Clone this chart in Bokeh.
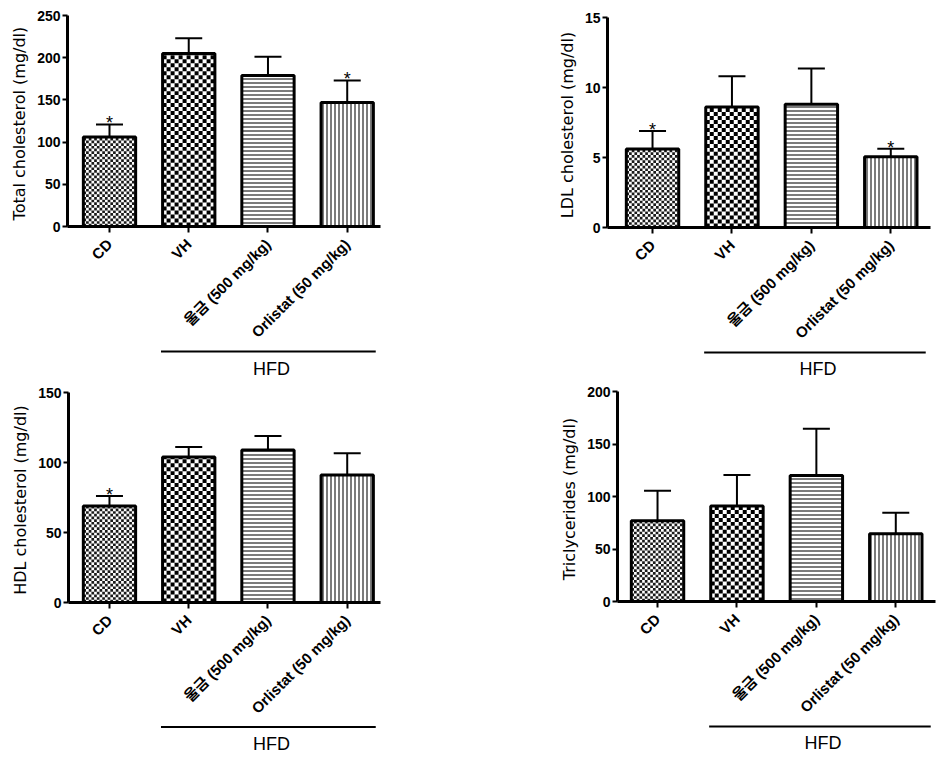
import math
from bokeh.plotting import figure
from bokeh.layouts import column, row
from bokeh.models import Range1d, FixedTicker, Whisker, TeeHead, ColumnDataSource
from bokeh.core.properties import value
from bokeh.embed import file_html
from bokeh.resources import INLINE

# ---------------- data ----------------
groups = ["CD", "VH", "울금 (500 mg/kg)", "Orlistat (50 mg/kg)"]
bracket_label = "HFD"

tc_mean = [106, 205, 179, 147]
tc_err = [15, 18, 22, 26]
tc_star = [1, 0, 0, 1]

ldl_mean = [5.6, 8.6, 8.8, 5.05]
ldl_err = [1.3, 2.2, 2.55, 0.57]
ldl_star = [1, 0, 0, 1]

hdl_mean = [69, 104, 109, 91]
hdl_err = [7, 7, 10, 15.6]
hdl_star = [1, 0, 0, 0]

tg_mean = [77, 91, 120, 64.5]
tg_err = [28.4, 29.4, 44.5, 20]
tg_star = [0, 0, 0, 0]

tc_ticks = [0, 50, 100, 150, 200, 250]
ldl_ticks = [0, 5, 10, 15]
hdl_ticks = [0, 50, 100, 150]
tg_ticks = [0, 50, 100, 150, 200]

LBL_FONT = "Liberation Sans, Noto Sans CJK KR"
BAR_W = 0.66
LABEL_SPACE = 122  # px below the zero line reserved for rotated tick labels


def checker_fill(p, xc, top, cell, color, ppx, ppu):
    """Checkerboard fill of one bar, drawn as quads through the data scales."""
    left0 = xc - BAR_W / 2
    right0 = xc + BAR_W / 2
    ncol = math.ceil(BAR_W * ppx / cell)
    nrow = math.ceil(top * ppu / cell)
    L, R, B, T = [], [], [], []
    for r in range(nrow):
        for c in range(ncol):
            if (r + c) % 2 == 0:
                L.append(left0 + c * cell / ppx)
                R.append(min(left0 + (c + 1) * cell / ppx, right0))
                B.append(r * cell / ppu)
                T.append(min((r + 1) * cell / ppu, top))
    p.quad(left=L, right=R, bottom=B, top=T, fill_color=color, line_color=None)


def panel(means, errs, stars, ticks, ylabel, fig_px, frame_px, bracket_px, x_lim):
    fig_left, fig_top, W, H = fig_px
    fl, fr, ft, fz = frame_px          # frame left, right, top, zero line (page px)
    line_py, text_py = bracket_px       # bracket line and label (page px)
    ymax = ticks[-1]
    ppu = (fz - ft) / ymax
    ppx = (fr - fl) / (x_lim[1] - x_lim[0])
    main_h = fz + LABEL_SPACE - fig_top
    p = figure(width=W, height=main_h, x_range=Range1d(*x_lim), y_range=Range1d(0, ymax),
               min_border_left=fl - fig_left, min_border_right=fig_left + W - fr,
               min_border_top=ft - fig_top, min_border_bottom=LABEL_SPACE,
               output_backend="svg", toolbar_location=None)
    p.outline_line_color = None
    p.grid.visible = False
    p.background_fill_color = "white"

    xs = list(range(1, len(groups) + 1))
    upper = [m + e for m, e in zip(means, errs)]

    p.vbar(x=xs, top=means, bottom=0, width=BAR_W, fill_color="white", line_color=None)
    checker_fill(p, xs[0], means[0], 2.7, "#1a1a1a", ppx, ppu)
    checker_fill(p, xs[1], means[1], 4.0, "#000000", ppx, ppu)
    p.vbar(x=[xs[2]], top=[means[2]], bottom=0, width=BAR_W, fill_color="white",
           line_color=None, hatch_pattern="horizontal_line", hatch_scale=4,
           hatch_weight=1.3, hatch_color="#333333")
    p.vbar(x=[xs[3]], top=[means[3]], bottom=0, width=BAR_W, fill_color="white",
           line_color=None, hatch_pattern="vertical_line", hatch_scale=4,
           hatch_weight=1.3, hatch_color="#333333")
    p.vbar(x=xs, top=means, bottom=0, width=BAR_W, fill_color=None,
           line_color="black", line_width=3)

    src = ColumnDataSource(dict(x=xs, top=means, upper=upper))
    wh = Whisker(source=src, base="x", lower="top", upper="upper", dimension="height",
                 line_color="black", line_width=2, lower_head=None,
                 upper_head=TeeHead(size=27, line_width=2, line_color="black"),
                 level="annotation")
    p.add_layout(wh)

    sx = [x for x, s in zip(xs, stars) if s]
    sy = [u for u, s in zip(upper, stars) if s]
    if sx:
        p.text(x=sx, y=sy, text=["*"] * len(sx), text_align="center",
               text_baseline="alphabetic", y_offset=-1,
               text_font=value("Liberation Sans"), text_font_size="18px", text_color="black")

    # y axis
    ya = p.yaxis[0]
    ya.ticker = FixedTicker(ticks=ticks)
    ya.axis_line_width = 3
    ya.major_tick_line_width = 2
    ya.major_tick_out = 5
    ya.major_tick_in = 0
    ya.minor_tick_line_color = None
    ya.major_label_text_font = "Liberation Sans"
    ya.major_label_text_font_style = "bold"
    ya.major_label_text_font_size = "14px"
    ya.major_label_text_color = "black"
    ya.major_label_standoff = 2
    ya.axis_label = ylabel
    ya.axis_label_text_font = "DejaVu Sans"
    ya.axis_label_text_font_style = "normal"
    ya.axis_label_text_font_size = "16px"
    ya.axis_label_text_color = "black"
    ya.axis_label_standoff = 5

    # x axis
    xa = p.xaxis[0]
    xa.ticker = FixedTicker(ticks=xs)
    xa.major_label_overrides = {x: g for x, g in zip(xs, groups)}
    xa.major_label_orientation = math.pi / 4
    xa.axis_line_width = 3
    xa.major_tick_line_width = 2
    xa.major_tick_out = 6
    xa.major_tick_in = 0
    xa.minor_tick_line_color = None
    xa.major_label_text_font = LBL_FONT
    xa.major_label_text_font_style = "bold"
    xa.major_label_text_font_size = "15px"
    xa.major_label_text_color = "black"
    xa.major_label_standoff = 9

    # HFD bracket strip below the tick labels
    b_top = fig_top + main_h
    b_h = fig_top + H - b_top
    b = figure(width=W, height=b_h, x_range=p.x_range, y_range=Range1d(0, b_h),
               min_border_left=fl - fig_left, min_border_right=fig_left + W - fr,
               min_border_top=0, min_border_bottom=0,
               x_axis_location=None, y_axis_location=None,
               output_backend="svg", toolbar_location=None)
    b.outline_line_color = None
    b.grid.visible = False
    line_y = b_h - max(line_py - b_top, 1.5)
    b.segment(x0=[2 - BAR_W / 2 - 0.02], y0=[line_y], x1=[x_lim[1] - 0.06], y1=[line_y],
              line_color="black", line_width=2)
    b.text(x=[(2 - BAR_W / 2 + x_lim[1]) / 2], y=[b_h - (text_py - b_top)], text=[bracket_label],
           text_align="center", text_baseline="middle",
           text_font=value("Liberation Sans"), text_font_size="18px", text_color="black")
    return column(p, b)


c1 = panel(tc_mean, tc_err, tc_star, tc_ticks, "Total cholesterol  (mg/dl)",
           (0, 0, 540, 380), (67, 380, 15, 227), (351, 368), (0.47, 4.42))
c2 = panel(ldl_mean, ldl_err, ldl_star, ldl_ticks, "LDL cholesterol  (mg/dl)",
           (540, 0, 404, 380), (607, 930, 17, 228), (352, 368), (0.433, 4.5))
c3 = panel(hdl_mean, hdl_err, hdl_star, hdl_ticks, "HDL cholesterol  (mg/dl)",
           (0, 380, 540, 377), (68, 380, 392, 603), (726, 743), (0.483, 4.42))
c4 = panel(tg_mean, tg_err, tg_star, tg_ticks, "Triclycerides  (mg/dl)",
           (540, 380, 404, 377), (617, 935, 391, 602), (726, 742), (0.496, 4.5))

layout = column(row(c1, c2), row(c3, c4))
open("out.html", "w").write(file_html(layout, INLINE))
